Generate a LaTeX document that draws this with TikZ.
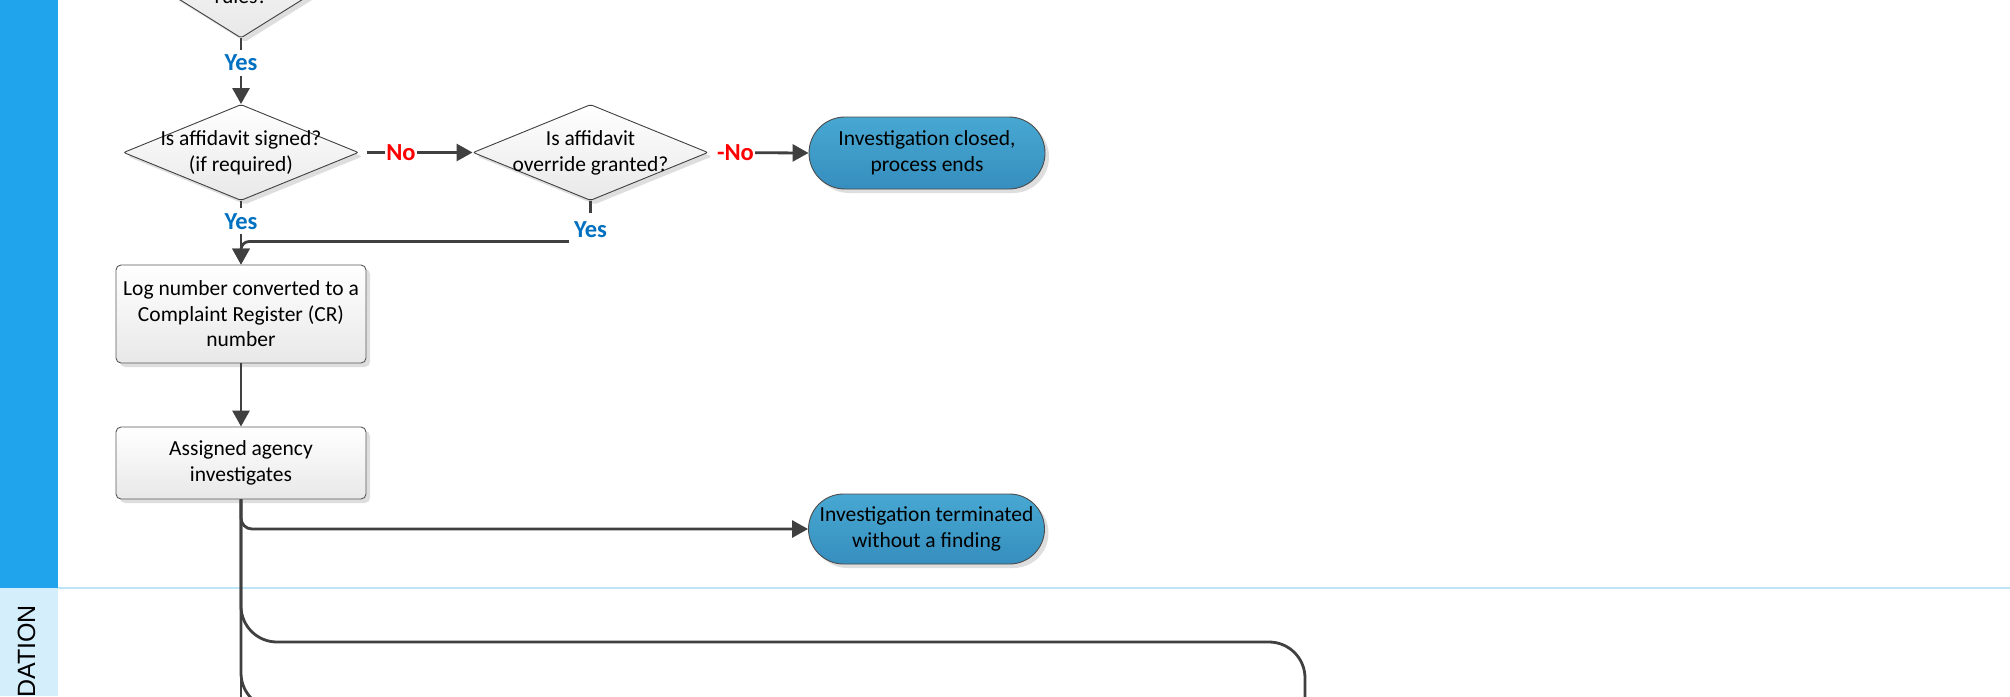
\documentclass[tikz,border=0pt]{standalone}
\usepackage{fontspec}
\setmainfont{Carlito}
\newfontfamily\lanefont{Liberation Sans}
\usetikzlibrary{shapes.geometric,shapes.misc,arrows.meta,shadows,calc}
\definecolor{lanebar}{RGB}{32,164,236}
\definecolor{lanelight}{RGB}{213,238,252}
\definecolor{sepline}{RGB}{190,228,248}
\definecolor{conncol}{RGB}{64,64,64}
\definecolor{yescol}{RGB}{0,112,192}
\definecolor{nocol}{RGB}{255,0,0}
\definecolor{termtop}{RGB}{72,168,210}
\definecolor{termbot}{RGB}{54,142,190}
\definecolor{shadowcol}{RGB}{222,222,222}
\newcommand{\boxfont}{\fontsize{21.5pt}{25.5pt}\selectfont}
\newcommand{\lblfont}{\bfseries\fontsize{24.5pt}{28pt}\selectfont}
\tikzset{
  myshadow/.style={drop shadow={shadow xshift=4pt, shadow yshift=-4pt, fill=shadowcol, opacity=1}},
  decision/.style={shape=diamond, draw=conncol, line width=0.9pt, top color=white, bottom color=black!9,
    inner sep=0pt, rounded corners=2pt, myshadow},
  dtext/.style={font=\boxfont, align=center, inner sep=0pt},
  procbox/.style={rectangle, rounded corners=5pt, draw=black!65, line width=0.9pt, top color=white,
    bottom color=black!9, minimum width=250pt, align=center, inner sep=2pt, font=\boxfont, myshadow},
  terminal/.style={rounded rectangle, draw=black!70, line width=0.9pt, top color=termtop, bottom color=termbot,
    minimum width=240pt, align=center, inner sep=2pt, font=\boxfont, myshadow},
  line/.style={draw=conncol, line width=2.8pt},
  conn/.style={line, -{Triangle[length=16pt,width=17pt]}},
  yes/.style={fill=white, text=yescol, font=\lblfont, inner xsep=3pt, inner ysep=5pt},
  no/.style={fill=white, text=nocol, font=\lblfont, inner xsep=1pt, inner ysep=4pt},
}
\begin{document}
\begin{tikzpicture}[x=1pt,y=-1pt]
\useasboundingbox (0,0) rectangle (2010,696);
\clip (0,0) rectangle (2010,696);
\fill[white] (0,0) rectangle (2010,696);
% lanes
\fill[lanebar] (0,0) rectangle (58,588);
\fill[lanelight] (0,588) rectangle (58,696);
\draw[sepline, line width=1.5pt] (58,588) -- (2010,588);
\node[rotate=90, anchor=base east, inner sep=0pt, font=\lanefont\fontsize{25pt}{30pt}\selectfont] (lanelbl) at (35,605) {DATION};

% shapes
\node[decision, minimum width=218pt, minimum height=136pt] (d1) at (241,-30) {};
\node[dtext, anchor=base] (d1t) at (241,4) {rules?};
\node[decision, minimum width=235pt, minimum height=96pt] (d2) at (241,152.5) {};
\node[dtext] (d2t) at (241,153) {Is affidavit signed?\\(if required)};
\node[decision, minimum width=235pt, minimum height=96pt] (d3) at (590.5,152.5) {};
\node[dtext] (d3t) at (590.5,153) {Is affidavit\\override granted?};
\node[terminal, minimum height=72pt] (t1) at (927,153) {Investigation closed,\\process ends};
\node[procbox, minimum height=98pt] (b1) at (241,314) {Log number converted to a\\Complaint Register (CR)\\number};
\node[procbox, minimum height=72pt] (b2) at (241,463) {Assigned agency\\investigates};
\node[terminal, minimum height=70pt] (t2) at (926.5,529) {Investigation terminated\\without a finding};

% free ends
\coordinate (vbot) at (241,720);
\coordinate (r2) at (1305,642);
\coordinate (r2b) at (1305,720);
\coordinate (r3) at (1500,709);

% connectors
\draw[conn] (d1.south) -- node[yes, pos=0.37] (y1) {Yes} (d2.north);
\draw[conn, shorten <=8pt] (d2.east) -- node[no, pos=0.37] (n1) {No} (d3.west);
\draw[conn, shorten <=11pt] (d3.east) -- node[no, pos=0.27] (n2) {-No} (t1.west);
\draw[conn] (d2.south) -- node[yes, pos=0.32] (y2) {Yes} (b1.north);
\draw[conn, rounded corners=8pt] (d3.south) |- ($(b1.north)+(0,-23)$) -- (b1.north);
\node[yes, inner ysep=9pt, inner xsep=5pt] (y3) at (590.5,230) {Yes};
\draw[conn] (b1.south) -- (b2.north);
\draw[line] (b2.south) -- (vbot);
\draw[conn, rounded corners=11pt] (b2.south) |- (t2.west);
\draw[line, rounded corners=36pt] (b2.south) |- (r2) -- (r2b);
\draw[line, rounded corners=36pt] (b2.south) |- (r3);
\end{tikzpicture}
\end{document}
